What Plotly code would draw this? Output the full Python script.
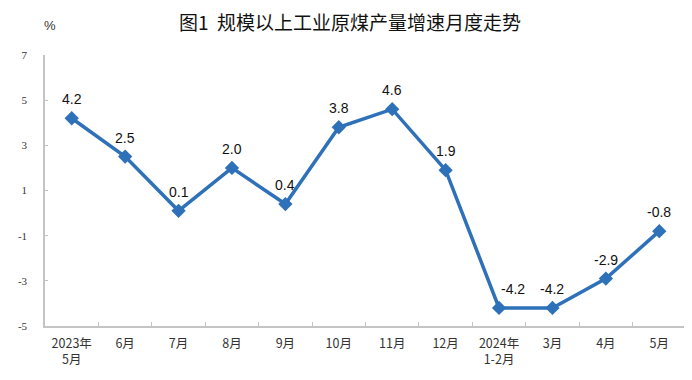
import plotly.graph_objects as go

categories = ["2023年<br>5月", "6月", "7月", "8月", "9月", "10月", "11月", "12月",
              "2024年<br>1-2月", "3月", "4月", "5月"]
values = [4.2, 2.5, 0.1, 2.0, 0.4, 3.8, 4.6, 1.9, -4.2, -4.2, -2.9, -0.8]
labels = ["4.2", "2.5", "0.1", "2.0", "0.4", "3.8", "4.6", "1.9", "-4.2", "-4.2", "-2.9", "-0.8"]
y_ticks = [-5, -3, -1, 1, 3, 5, 7]

LINE = "#2e71b8"
AXIS = "#c4c4c4"
YTICKFONT = dict(family="Liberation Serif", size=11, color="#333333")
XTICKFONT = dict(family="Liberation Sans Narrow, Noto Sans CJK SC", size=12.5, color="#333333")
LABELFONT = dict(family="Liberation Sans, Arial", size=14, color="#111111")

# page body has an 8px default margin; compensate so the figure fits the 692x380 window
OFF = 8
W, H = 692 - OFF, 380 - OFF

fig = go.Figure()
fig.add_trace(go.Scatter(
    x=categories, y=values,
    mode="lines+markers",
    line=dict(color=LINE, width=3.5),
    marker=dict(symbol="diamond", size=11, color=LINE),
    cliponaxis=False,
    hoverinfo="skip",
))

annotations = []
for i, (c, v, t) in enumerate(zip(categories, values, labels)):
    annotations.append(dict(
        x=c, y=v, text=t, showarrow=False, yshift=19, xshift=14 if i == 8 else 0,
        xanchor="center", yanchor="middle", font=LABELFONT,
    ))
annotations.append(dict(text="%", xref="paper", yref="paper", x=0.0, y=1.0,
                        yshift=30, xshift=5, xanchor="center", yanchor="middle",
                        showarrow=False,
                        font=dict(family="Liberation Sans", size=13, color="#333333")))

fig.update_layout(
    width=W, height=H,
    margin=dict(l=45 - OFF, r=692 - 686, t=55 - OFF, b=380 - 326),
    paper_bgcolor="white", plot_bgcolor="white",
    showlegend=False,
    title=dict(text="图1  规模以上工业原煤产量增速月度走势", x=(350 - OFF) / W, xanchor="center",
               y=1 - (23 - OFF) / H, yanchor="middle",
               font=dict(family="Noto Sans CJK SC", size=19, color="#111111")),
    xaxis=dict(
        type="category", showline=True, linecolor=AXIS, linewidth=1.5,
        ticks="inside", tickson="boundaries", ticklen=4, tickcolor=AXIS,
        tickfont=XTICKFONT, showgrid=False, zeroline=False, ticklabelstandoff=5,
        range=[-0.5, len(categories) - 0.5],
    ),
    yaxis=dict(
        range=[-5, 7], tickvals=y_ticks, ticktext=[str(v) for v in y_ticks],
        showline=True, linecolor=AXIS, linewidth=1.5,
        ticks="inside", ticklen=3, tickcolor=AXIS,
        tickfont=YTICKFONT, showgrid=False, zeroline=False, ticklabelstandoff=14,
    ),
    annotations=annotations,
)

fig.write_html("out.html")
